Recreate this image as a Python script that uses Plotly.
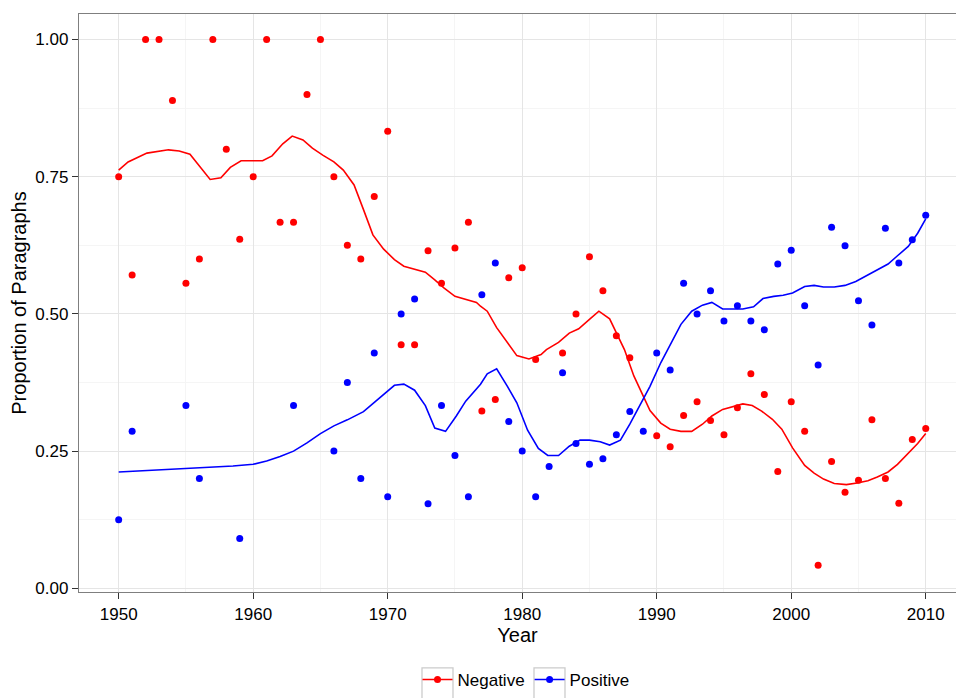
import plotly.graph_objects as go

# yearly proportions (points)
neg_years = [1950, 1951, 1952, 1953, 1954, 1955, 1956, 1957, 1958, 1959,
             1960, 1961, 1962, 1963, 1964, 1965, 1966, 1967, 1968, 1969,
             1970, 1971, 1972, 1973, 1974, 1975, 1976, 1977, 1978, 1979,
             1980, 1981, 1983, 1984, 1985, 1986, 1987, 1988, 1990,
             1991, 1992, 1993, 1994, 1995, 1996, 1997, 1998, 1999, 2000,
             2001, 2002, 2003, 2004, 2005, 2006, 2007, 2008, 2009, 2010]
neg_vals = [0.750, 0.571, 1.000, 1.000, 0.889, 0.556, 0.600, 1.000, 0.800, 0.636,
            0.750, 1.000, 0.667, 0.667, 0.900, 1.000, 0.750, 0.625, 0.600, 0.714,
            0.833, 0.444, 0.444, 0.615, 0.556, 0.620, 0.667, 0.323, 0.344, 0.566,
            0.584, 0.417, 0.429, 0.500, 0.604, 0.542, 0.460, 0.420, 0.278,
            0.258, 0.315, 0.340, 0.306, 0.280, 0.329, 0.391, 0.353, 0.213, 0.340,
            0.286, 0.042, 0.231, 0.175, 0.197, 0.307, 0.200, 0.155, 0.271, 0.291]

pos_years = [1950, 1951, 1955, 1956, 1959, 1963, 1966, 1967, 1968, 1969,
             1970, 1971, 1972, 1973, 1974, 1975, 1976, 1977, 1978, 1979,
             1980, 1981, 1982, 1983, 1984, 1985, 1986, 1987, 1988, 1989,
             1990, 1991, 1992, 1993, 1994, 1995, 1996, 1997, 1998, 1999,
             2000, 2001, 2002, 2003, 2004, 2005, 2006, 2007, 2008, 2009, 2010]
pos_vals = [0.125, 0.286, 0.333, 0.200, 0.091, 0.333, 0.250, 0.375, 0.200, 0.429,
            0.167, 0.500, 0.527, 0.154, 0.333, 0.242, 0.167, 0.535, 0.593, 0.304,
            0.250, 0.167, 0.222, 0.393, 0.264, 0.226, 0.236, 0.280, 0.322, 0.286,
            0.429, 0.398, 0.556, 0.500, 0.542, 0.487, 0.515, 0.487, 0.471, 0.591,
            0.616, 0.515, 0.407, 0.658, 0.624, 0.524, 0.480, 0.656, 0.593, 0.635, 0.680]

# smoothed curves
neg_fit_x = [1950.0, 1950.7, 1952.1, 1953.7, 1954.5, 1955.3, 1956.8, 1957.6, 1958.3, 1959.1,
             1960.7, 1961.4, 1962.2, 1962.9, 1963.7, 1964.4, 1965.2, 1966.0, 1966.7, 1967.5,
             1968.2, 1968.9, 1969.7, 1970.5, 1971.2, 1972.0, 1972.8, 1973.5, 1974.2, 1975.0,
             1975.8, 1976.6, 1976.9, 1977.4, 1978.1, 1978.9, 1979.4, 1979.6, 1980.5, 1981.4,
             1981.8, 1982.7, 1983.5, 1984.2, 1985.0, 1985.7, 1986.5, 1987.1, 1987.6, 1988.3,
             1989.0, 1989.5, 1990.3, 1991.0, 1991.8, 1992.6, 1993.4, 1994.1, 1994.9, 1995.6,
             1996.4, 1997.1, 1997.8, 1998.6, 1999.3, 2000.1, 2001.0, 2001.7, 2002.4, 2003.2,
             2004.1, 2004.9, 2005.7, 2006.4, 2007.2, 2007.9, 2008.6, 2009.4, 2010.0]
neg_fit_y = [0.762, 0.777, 0.793, 0.799, 0.797, 0.791, 0.745, 0.748, 0.767, 0.779,
             0.779, 0.788, 0.810, 0.824, 0.817, 0.802, 0.789, 0.777, 0.762, 0.735,
             0.690, 0.644, 0.618, 0.599, 0.587, 0.582, 0.576, 0.562, 0.547, 0.532,
             0.526, 0.521, 0.514, 0.505, 0.475, 0.447, 0.429, 0.424, 0.418, 0.426,
             0.435, 0.448, 0.465, 0.473, 0.490, 0.505, 0.491, 0.459, 0.435, 0.387,
             0.350, 0.324, 0.301, 0.290, 0.286, 0.286, 0.299, 0.314, 0.326, 0.331,
             0.336, 0.333, 0.323, 0.308, 0.290, 0.256, 0.224, 0.210, 0.199, 0.191,
             0.189, 0.192, 0.196, 0.203, 0.212, 0.226, 0.244, 0.264, 0.282]

pos_fit_x = [1950.0, 1956.0, 1958.5, 1960.0, 1961.0, 1962.0, 1963.0, 1964.0, 1965.0, 1966.0,
             1967.0, 1968.2, 1969.1, 1969.8, 1970.5, 1971.2, 1972.0, 1972.8, 1973.5, 1974.3,
             1975.1, 1975.8, 1976.6, 1976.9, 1977.4, 1978.1, 1978.9, 1979.6, 1980.4, 1981.2,
             1981.9, 1982.7, 1983.5, 1984.3, 1985.0, 1985.8, 1986.5, 1987.3, 1988.0, 1988.7,
             1989.5, 1990.3, 1990.8, 1991.8, 1992.6, 1993.4, 1994.1, 1994.9, 1995.6, 1996.4,
             1997.2, 1997.9, 1998.7, 1999.4, 2000.1, 2001.0, 2001.7, 2002.4, 2003.2, 2004.0,
             2004.8, 2005.7, 2006.4, 2007.2, 2007.9, 2008.7, 2009.4, 2010.0]
pos_fit_y = [0.212, 0.219, 0.223, 0.226, 0.232, 0.240, 0.250, 0.265, 0.282, 0.296,
             0.307, 0.322, 0.341, 0.356, 0.370, 0.372, 0.361, 0.333, 0.292, 0.286,
             0.314, 0.341, 0.365, 0.372, 0.391, 0.400, 0.368, 0.338, 0.288, 0.255,
             0.242, 0.242, 0.259, 0.270, 0.270, 0.267, 0.261, 0.270, 0.299, 0.332,
             0.368, 0.411, 0.435, 0.481, 0.505, 0.516, 0.521, 0.509, 0.509, 0.509,
             0.513, 0.528, 0.532, 0.534, 0.538, 0.550, 0.552, 0.549, 0.549, 0.552,
             0.559, 0.571, 0.581, 0.591, 0.606, 0.623, 0.647, 0.673]

RED = "#FF0000"
BLUE = "#0000FF"
FONT = "Liberation Sans, Arial, sans-serif"

# plot panel in screen px: x 79..956, y 14..593
PL, PT, PW, PH = 79, 14, 877, 579

fig = go.Figure()
fig.add_trace(go.Scatter(x=neg_years, y=neg_vals, mode="markers", marker=dict(color=RED, size=7),
                         showlegend=False))
fig.add_trace(go.Scatter(x=pos_years, y=pos_vals, mode="markers", marker=dict(color=BLUE, size=7),
                         showlegend=False))
fig.add_trace(go.Scatter(x=neg_fit_x, y=neg_fit_y, mode="lines", line=dict(color=RED, width=1.6),
                         showlegend=False))
fig.add_trace(go.Scatter(x=pos_fit_x, y=pos_fit_y, mode="lines", line=dict(color=BLUE, width=1.6),
                         showlegend=False))
# legend entries
fig.add_trace(go.Scatter(x=[None], y=[None], mode="lines+markers", name="Negative",
                         line=dict(color=RED, width=1.6), marker=dict(color=RED, size=7)))
fig.add_trace(go.Scatter(x=[None], y=[None], mode="lines+markers", name="Positive",
                         line=dict(color=BLUE, width=1.6), marker=dict(color=BLUE, size=7)))

# grey boxes behind the legend keys, ggplot style (screen px)
for x0, x1 in [(422, 453), (534, 565)]:
    fig.add_shape(type="rect", xref="paper", yref="paper",
                  x0=(x0 - PL) / PW, x1=(x1 - PL) / PW,
                  y0=(PT + PH - 702) / PH, y1=(PT + PH - 669) / PH,
                  line=dict(color="#CCCCCC", width=1.3), fillcolor="white", layer="below")

fig.update_layout(
    width=956, height=698,
    margin=dict(l=PL, r=956 - PL - PW, t=PT, b=698 - PT - PH),
    plot_bgcolor="white", paper_bgcolor="white",
    font=dict(family=FONT, size=17, color="black"),
    legend=dict(orientation="h", x=(526 - PL) / PW, xanchor="center",
                y=(PT + PH - 681) / PH, yanchor="middle",
                font=dict(size=17), itemwidth=30, bgcolor="rgba(0,0,0,0)"),
)
fig.update_xaxes(
    range=[1947.05, 2012.25], tick0=1950, dtick=10, ticks="outside", ticklen=6,
    tickcolor="#333333", tickwidth=1.2, showline=True, linecolor="#7F7F7F", linewidth=1.3,
    mirror=True, gridcolor="#E5E5E5", gridwidth=1, zeroline=False, automargin=False,
    minor=dict(dtick=5, tick0=1950, showgrid=True, gridcolor="#F5F5F5", gridwidth=1),
    title=dict(text="Year", font=dict(size=20), standoff=0),
)
fig.update_yaxes(
    range=[-0.0067, 1.0465], tick0=0, dtick=0.25, tickformat=".2f", ticks="outside", ticklen=6,
    tickcolor="#333333", tickwidth=1.2, showline=True, linecolor="#7F7F7F", linewidth=1.3,
    gridcolor="#E5E5E5", gridwidth=1, zeroline=False, automargin=False,
    minor=dict(dtick=0.125, tick0=0, showgrid=True, gridcolor="#F5F5F5", gridwidth=1),
    title=dict(text="Proportion of Paragraphs", font=dict(size=20), standoff=3),
)

# no page margin / scrollbars, so the figure sits at the window's top-left corner
fig.write_html("out.html", config={"displayModeBar": False},
               post_script="document.body.style.margin='0';document.body.style.overflow='hidden';")
